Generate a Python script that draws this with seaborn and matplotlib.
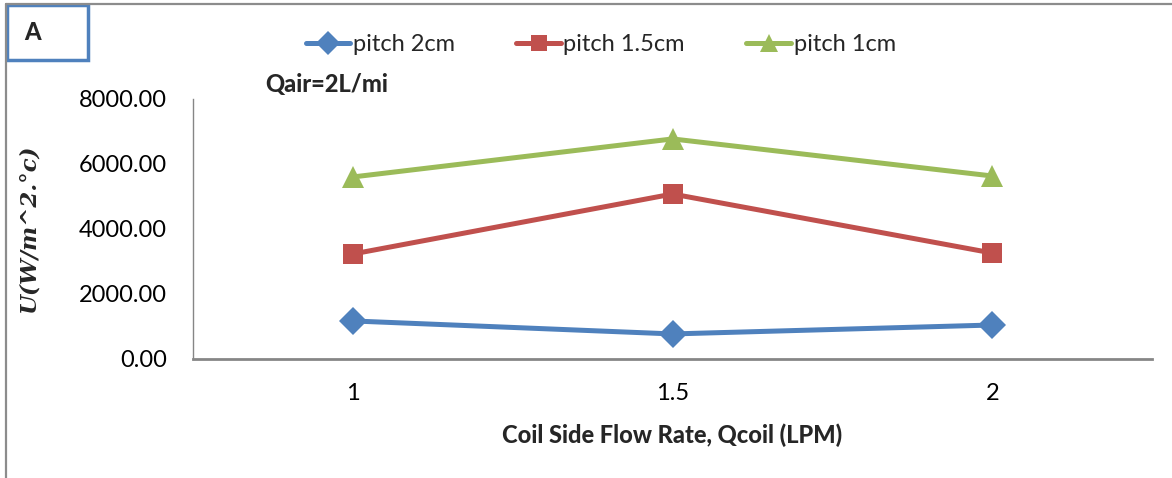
import pandas as pd
import matplotlib.pyplot as plt
import seaborn as sns
from matplotlib.lines import Line2D
from matplotlib.patches import Rectangle

# ==========================================
# Data
# ==========================================

flow_rates = ["1", "1.5", "2"]
pitch_2cm = [1170, 770, 1045]
pitch_15cm = [3230, 5075, 3260]
pitch_1cm = [5600, 6770, 5630]

series_names = ["pitch 2cm", "pitch 1.5cm", "pitch 1cm"]
colors = ["#4F81BD", "#C0504D", "#9BBB59"]
markers = ["D", "s", "^"]
marker_sizes = [14, 14, 16]

df = pd.DataFrame({
    "Q": flow_rates * 3,
    "U": pitch_2cm + pitch_15cm + pitch_1cm,
    "series": [n for n in series_names for _ in flow_rates],
})

# ==========================================
# Plot
# ==========================================

sns.set_style("white")
plt.rcParams["font.family"] = ["Lato", "DejaVu Sans"]

fig = plt.figure(figsize=(11.72, 4.78), dpi=100)
ax = fig.add_axes([0.1647, 0.249, 0.8183, 0.544])

sns.pointplot(
    data=df, x="Q", y="U", hue="series",
    order=flow_rates, hue_order=series_names,
    palette=colors, markers=markers, linestyles="-",
    errorbar=None, dodge=False, ax=ax, legend=False,
)

handles = []
for line, ms, c, m, name in zip(ax.lines, marker_sizes, colors, markers, series_names):
    line.set_linewidth(3.6)
    line.set_markersize(ms)
    line.set_markeredgewidth(0)
    handles.append(Line2D([], [], color=c, marker=m, lw=3.6, ms=ms * 0.85,
                          markeredgewidth=0, label=name))

ax.set_xlim(-0.5, 2.5)
ax.set_ylim(0, 8000)
ax.set_yticks([0, 2000, 4000, 6000, 8000])
ax.set_yticklabels([f"{v:.2f}" for v in [0, 2000, 4000, 6000, 8000]])
ax.tick_params(axis="y", length=0, pad=19, labelsize=17, colors="#000000")
ax.tick_params(axis="x", length=0, pad=17, labelsize=17, colors="#000000")

for s in ["top", "right"]:
    ax.spines[s].set_visible(False)
ax.spines["left"].set_color("#868686")
ax.spines["left"].set_linewidth(1.0)
ax.spines["bottom"].set_color("#868686")
ax.spines["bottom"].set_linewidth(2.0)

ax.set_xlabel("Coil Side Flow Rate, Qcoil (LPM)", fontsize=17, fontweight="black", labelpad=14)
ax.set_ylabel("U(W/m^2.°c)", fontsize=16.5, fontweight="bold", fontstyle="italic",
              family="DejaVu Serif")
ax.yaxis.set_label_coords(-0.16, 0.5)

ax.text(0.075, 1.054, "Qair=2L/mi", transform=ax.transAxes, fontsize=17,
        fontweight="black", va="center", ha="left")

ax.legend(handles=handles, loc="center", bbox_to_anchor=(0.425, 1.21), ncol=3,
          frameon=False, fontsize=17, handlelength=1.9, handletextpad=0.1,
          columnspacing=2.6)

# outer chart border and panel tag
fig.add_artist(Line2D([6 / 1172, 1], [1 - 4 / 478, 1 - 4 / 478], color="#8C8C8C", lw=1.6))
fig.add_artist(Line2D([6 / 1172, 6 / 1172], [0, 1 - 4 / 478], color="#8C8C8C", lw=1.6))
fig.add_artist(Rectangle((7 / 1172, 1 - 60 / 478), 81 / 1172, 55 / 478,
                         transform=fig.transFigure, fill=True, facecolor="white",
                         edgecolor="#4F81BD", lw=2.5))
fig.text(24 / 1172, 1 - 33 / 478, "A", fontsize=17, fontweight="black", va="center", ha="left")

plt.savefig("out.png", dpi=100)
plt.close()
